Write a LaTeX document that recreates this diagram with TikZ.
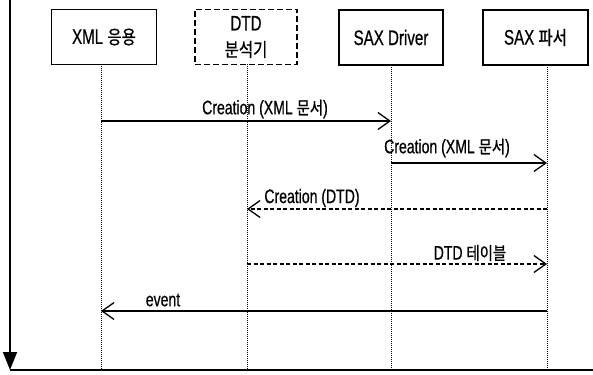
\documentclass[tikz,border=0pt]{standalone}
\usepackage{fontspec}
\setmainfont{Liberation Sans}[FakeStretch=0.72,FakeBold=0.6]
\newfontfamily\kr{Noto Sans CJK KR}[FakeStretch=0.82,Scale=0.9,FakeBold=0.8]
\usetikzlibrary{arrows.meta}
\newcommand\K[1]{{\kr #1}}
\begin{document}
\begin{tikzpicture}[x=1pt,y=-1pt,
  actor/.style={draw,line width=1.1pt,minimum width=105pt,minimum height=55pt,inner sep=0pt,
    font=\fontsize{21}{23}\selectfont,align=center},
  dactor/.style={actor,dash pattern=on 6pt off 3pt},
  life/.style={line width=0.7pt,dash pattern=on 0.8pt off 1.2pt},
  msg/.style={line width=1.3pt,-{Straight Barb[length=12pt,width=17pt,line width=1.3pt]}},
  dmsg/.style={msg,dash pattern=on 4pt off 2.5pt},
  lbl/.style={font=\fontsize{19.5}{22}\selectfont,inner sep=0pt}]
\useasboundingbox (0,0) rectangle (593,374);
% axis
\coordinate (ax0) at (10,0);
\coordinate (ax1) at (10,370);
\coordinate (bx1) at (593,370);
\draw[line width=1.5pt,-{Triangle[length=18pt,width=14pt]}] (ax0) -- (ax1);
\draw[line width=1.5pt] (ax1) -- (bx1);
% actors
\node[actor] (xml) at (104,37) {XML \K{응용}};
\node[dactor,minimum width=102pt] (dtd) at (246,37) {DTD\\[3pt]\K{분석기}};
\node[actor,minimum width=104pt] (drv) at (391,37.5) {SAX Driver};
\node[actor] (sax) at (535.5,37.5) {SAX \K{파서}};
% lifelines
\coordinate (l1t) at (101,64); \coordinate (l1b) at (101,370);
\coordinate (l2t) at (247,64); \coordinate (l2b) at (247,370);
\coordinate (l3t) at (391,65); \coordinate (l3b) at (391,370);
\coordinate (l4t) at (547,65); \coordinate (l4b) at (547,370);
\foreach \i in {1,2,3,4} \draw[life] (l\i t) -- (l\i b);
% message points
\coordinate (m1a) at (101,121); \coordinate (m1b) at (391,121);
\coordinate (m2a) at (391,163); \coordinate (m2b) at (547,163);
\coordinate (m3a) at (547,209); \coordinate (m3b) at (247,209);
\coordinate (m4a) at (247,264); \coordinate (m4b) at (547,264);
\coordinate (m5a) at (547,311); \coordinate (m5b) at (101,311);
\draw[msg] (m1a) -- (m1b);
\draw[msg] (m2a) -- (m2b);
\draw[dmsg] (m3a) -- (m3b);
\draw[dmsg] (m4a) -- (m4b);
\draw[msg] (m5a) -- (m5b);
% labels
\node[lbl] (t1) at (265,109) {Creation (XML \K{문서})};
\node[lbl] (t2) at (447,148) {Creation (XML \K{문서})};
\node[lbl] (t3) at (312,198) {Creation (DTD)};
\node[lbl] (t4) at (470,253) {DTD \K{테이블}};
\node[lbl] (t5) at (163,300) {event};
\end{tikzpicture}
\end{document}
